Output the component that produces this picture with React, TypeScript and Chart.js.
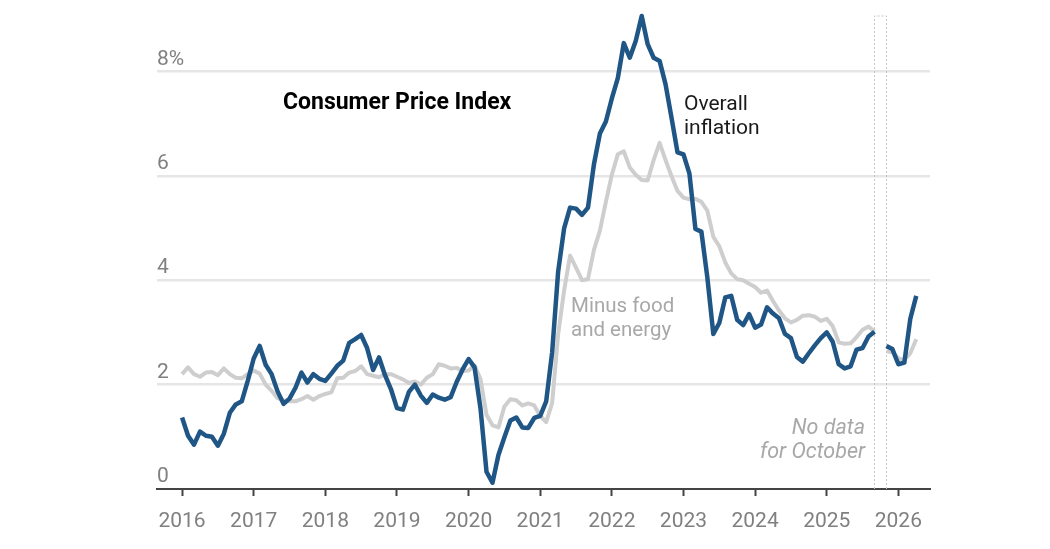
import React, { useRef, useEffect } from 'react';
import { Chart, registerables } from 'chart.js';

Chart.register(...registerables);

const FONT = 'Roboto';
const YEARS = ['2016', '2017', '2018', '2019', '2020', '2021', '2022', '2023', '2024', '2025', '2026'];
const Y_TICKS = [0, 2, 4, 6, 8];

// monthly, Jan 2016 to Apr 2026, null = no October 2025 reading
const overall = [
  1.37, 1.02, 0.85, 1.1, 1.02, 1.0, 0.83, 1.06, 1.46, 1.62, 1.68, 2.07,
  2.5, 2.74, 2.38, 2.2, 1.87, 1.63, 1.73, 1.94, 2.23, 2.04, 2.2, 2.11,
  2.07, 2.21, 2.36, 2.46, 2.8, 2.87, 2.95, 2.7, 2.28, 2.52, 2.18, 1.91,
  1.55, 1.52, 1.86, 2.0, 1.79, 1.65, 1.81, 1.75, 1.71, 1.76, 2.05, 2.29,
  2.49, 2.33, 1.54, 0.33, 0.12, 0.65, 0.99, 1.31, 1.37, 1.18, 1.17, 1.36,
  1.4, 1.68, 2.62, 4.16, 4.99, 5.39, 5.37, 5.25, 5.39, 6.22, 6.81, 7.04,
  7.48, 7.87, 8.54, 8.26, 8.58, 9.06, 8.52, 8.26, 8.2, 7.75, 7.11, 6.45,
  6.41, 6.04, 4.98, 4.93, 4.05, 2.97, 3.18, 3.67, 3.7, 3.24, 3.14, 3.35,
  3.09, 3.15, 3.48, 3.36, 3.27, 2.97, 2.89, 2.53, 2.44, 2.6, 2.75, 2.89,
  3.0, 2.82, 2.39, 2.31, 2.35, 2.67, 2.7, 2.92, 3.01, null, 2.74, 2.68,
  2.39, 2.42, 3.26, 3.7,
];
const core = [
  2.2, 2.33, 2.2, 2.15, 2.23, 2.24, 2.18, 2.31, 2.2, 2.13, 2.12, 2.2,
  2.27, 2.21, 2.0, 1.88, 1.74, 1.7, 1.68, 1.68, 1.72, 1.78, 1.71, 1.78,
  1.82, 1.85, 2.12, 2.13, 2.23, 2.26, 2.35, 2.2, 2.17, 2.14, 2.2, 2.2,
  2.15, 2.1, 2.03, 2.06, 2.0, 2.13, 2.2, 2.39, 2.36, 2.31, 2.32, 2.26,
  2.27, 2.37, 2.1, 1.42, 1.22, 1.18, 1.58, 1.72, 1.7, 1.6, 1.64, 1.6,
  1.4, 1.28, 1.65, 2.96, 3.8, 4.47, 4.24, 4.0, 4.02, 4.58, 4.95, 5.5,
  6.02, 6.41, 6.47, 6.16, 6.02, 5.92, 5.91, 6.3, 6.63, 6.3, 5.99, 5.71,
  5.58, 5.55, 5.56, 5.5, 5.33, 4.83, 4.65, 4.34, 4.13, 4.02, 4.0, 3.93,
  3.87, 3.76, 3.8, 3.6, 3.42, 3.27, 3.19, 3.24, 3.32, 3.33, 3.3, 3.22,
  3.26, 3.12, 2.81, 2.78, 2.79, 2.91, 3.05, 3.11, 3.02, null, 2.64, 2.62,
  2.5, 2.47, 2.6, 2.87,
];

// first and last month around the missing reading
const GAP_START = 116;
const GAP_END = 118;

const textNotes = [
  { lines: ['Consumer Price Index'], x: 283, y: 109, color: '#000', font: `bold 23px ${FONT}`, align: 'left' },
  { lines: ['Overall', 'inflation'], x: 684, y: 110, color: '#1a1a1a', font: `21px ${FONT}`, align: 'left' },
  { lines: ['Minus food', 'and energy'], x: 571, y: 312, color: '#a8a8a8', font: `20.5px ${FONT}`, align: 'left' },
  { lines: ['No data', 'for October'], x: 865, y: 434, color: '#a8a8a8', font: `italic 21.5px ${FONT}`, align: 'right' },
];

const gapAndNotes = {
  id: 'gapAndNotes',
  beforeDatasetsDraw(chart: any) {
    const { ctx, scales, chartArea } = chart;
    const left = Math.round(scales.x.getPixelForValue(GAP_START)) + 0.5;
    const right = Math.round(scales.x.getPixelForValue(GAP_END)) + 0.5;
    ctx.save();
    ctx.strokeStyle = '#c4c4c4';
    ctx.lineWidth = 1;
    ctx.setLineDash([2, 2]);
    ctx.beginPath();
    ctx.moveTo(left, chartArea.bottom);
    ctx.lineTo(left, chartArea.top);
    ctx.lineTo(right, chartArea.top);
    ctx.lineTo(right, chartArea.bottom);
    ctx.stroke();
    ctx.restore();
  },
  afterDraw(chart: any) {
    const { ctx } = chart;
    ctx.save();
    textNotes.forEach(note => {
      ctx.font = note.font;
      ctx.fillStyle = note.color;
      ctx.textAlign = note.align;
      ctx.textBaseline = 'alphabetic';
      note.lines.forEach((line, i) => ctx.fillText(line, note.x, note.y + i * 24));
    });
    ctx.restore();
  },
};

export default function App() {
  const canvasRef = useRef<HTMLCanvasElement>(null);

  useEffect(() => {
    const canvas = canvasRef.current;
    if (!canvas) return;

    const chart = new Chart(canvas, {
      type: 'line',
      data: {
        datasets: [
          {
            label: 'Overall inflation',
            data: overall.map((y, x) => ({ x, y })),
            borderColor: '#1f5685',
            borderWidth: 4.5,
            pointRadius: 0,
            tension: 0,
            spanGaps: false,
            clip: false,
            borderJoinStyle: 'round',
          },
          {
            label: 'Minus food and energy',
            data: core.map((y, x) => ({ x, y })),
            borderColor: '#cecece',
            borderWidth: 4,
            pointRadius: 0,
            tension: 0,
            spanGaps: false,
            clip: false,
            borderJoinStyle: 'round',
          },
        ],
      },
      options: {
        animation: false,
        responsive: false,
        layout: { padding: { left: 157, right: 120, top: 16, bottom: 0 } },
        plugins: { legend: { display: false }, tooltip: { enabled: false } },
        scales: {
          x: {
            type: 'linear',
            min: -4.2,
            max: 125.3,
            afterFit: s => { s.height = 60; },
            afterBuildTicks: s => { s.ticks = YEARS.map((_, i) => ({ value: i * 12 })); },
            border: { color: '#444', width: 2 },
            grid: { drawOnChartArea: false, drawTicks: true, tickLength: 7, tickColor: '#444', tickWidth: 2 },
            ticks: {
              autoSkip: false,
              maxRotation: 0,
              padding: 13,
              color: '#808080',
              font: { family: FONT, size: 21 },
              callback: v => YEARS[Number(v) / 12],
            },
          },
          y: {
            min: 0,
            max: 9.06,
            afterFit: s => { s.width = 0; },
            afterBuildTicks: s => { s.ticks = Y_TICKS.map(value => ({ value })); },
            border: { display: false },
            grid: {
              drawTicks: false,
              lineWidth: 2.5,
              color: c => (c.tick.value === 0 ? 'transparent' : '#e6e6e6'),
            },
            ticks: {
              mirror: true,
              padding: 0,
              labelOffset: -12,
              color: '#808080',
              font: { family: FONT, size: 21 },
              callback: v => (v === 8 ? '8%' : String(v)),
            },
          },
        },
      },
      plugins: [gapAndNotes],
    });

    return () => chart.destroy();
  }, []);

  return (
    <div style={{ position: 'absolute', left: 0, top: 0, width: 1050, height: 549, background: '#fff' }}>
      <canvas ref={canvasRef} width={1050} height={549} style={{ display: 'block' }} />
    </div>
  );
}
